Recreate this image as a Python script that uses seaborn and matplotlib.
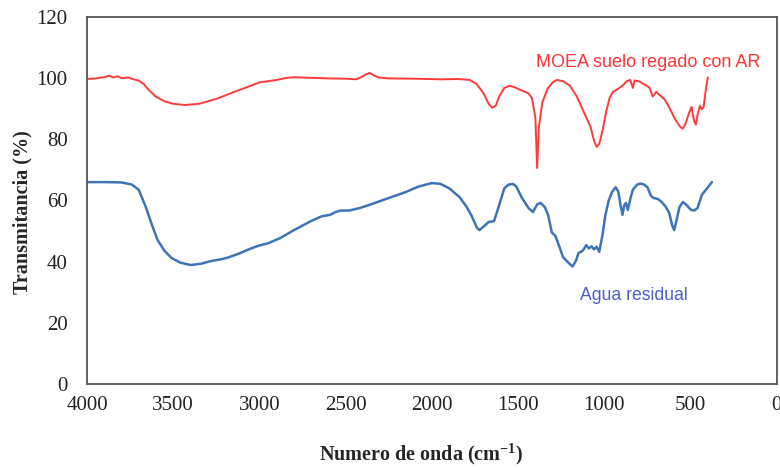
import matplotlib
matplotlib.use("Agg")
import matplotlib.pyplot as plt
import seaborn as sns
import pandas as pd

# MOEA suelo regado con AR (red)
wn_moea = [4000, 3950, 3900, 3870, 3850, 3820, 3800, 3760, 3730, 3700, 3670, 3640, 3600,
           3550, 3500, 3430, 3350, 3250, 3150, 3050, 3000, 2950, 2900, 2850, 2800, 2700,
           2600, 2500, 2440, 2410, 2380, 2360, 2340, 2310, 2250, 2100, 1950, 1850, 1780,
           1740, 1700, 1670, 1650, 1630, 1610, 1580, 1550, 1520, 1490, 1460, 1440, 1420,
           1400, 1390, 1380, 1360, 1330, 1300, 1275, 1240, 1200, 1160, 1120, 1100, 1080,
           1060, 1045, 1030, 1010, 990, 970, 950, 920, 890, 870, 850, 835, 825, 800, 770,
           740, 720, 700, 680, 650, 620, 590, 560, 545, 530, 510, 495, 480, 470, 460, 446,
           435, 425, 410, 400]
t_moea = [99.7, 99.9, 100.3, 100.8, 100.2, 100.6, 100.0, 100.2, 99.6, 99.2, 98.0, 96.0, 93.9,
          92.4, 91.6, 91.2, 91.6, 93.2, 95.4, 97.5, 98.6, 99.0, 99.4, 100.0, 100.3, 100.1,
          99.9, 99.8, 99.6, 100.3, 101.3, 101.7, 101.0, 100.2, 99.9, 99.8, 99.6, 99.7, 99.4,
          98.0, 95.0, 91.5, 90.3, 91.0, 94.0, 96.8, 97.5, 97.0, 96.2, 95.5, 95.0, 93.5,
          87.0, 70.6, 84.0, 92.0, 96.5, 98.6, 99.4, 99.0, 97.5, 94.0, 89.0, 86.5, 84.0,
          79.5, 77.5, 78.5, 83.0, 89.0, 93.5, 95.5, 96.5, 97.8, 99.0, 99.4, 96.8, 99.2, 99.0, 98.0,
          97.0, 94.0, 95.5, 94.5, 93.0, 90.0, 86.5, 84.0, 83.5, 85.0, 88.5, 90.6, 86.0, 84.8, 88.0, 90.9,
          89.8, 90.5, 97.0, 100.2]

# Agua residual (blue)
wn_agua = [4000, 3900, 3800, 3740, 3700, 3660, 3620, 3590, 3550, 3510, 3460, 3400, 3340, 3280,
           3220, 3190, 3120, 3050, 3000, 2950, 2880, 2800, 2700, 2640, 2590, 2560, 2530, 2480,
           2420, 2360, 2250, 2150, 2080, 2000, 1950, 1900, 1840, 1800, 1770, 1740, 1725, 1700,
           1670, 1640, 1610, 1580, 1555, 1530, 1510, 1480, 1440, 1414, 1390, 1370, 1345, 1325,
           1305, 1285, 1265, 1240, 1215, 1185, 1165, 1150, 1125, 1105, 1090, 1075, 1060, 1045,
           1030, 1010, 995, 975, 955, 935, 920, 905, 895, 885, 875, 864, 850, 835, 810, 790,
           770, 750, 730, 715, 690, 670, 645, 625, 605, 595, 580, 565, 545, 525, 500, 480,
           460, 435, 400, 377]
t_agua = [66.0, 66.0, 65.9, 65.2, 63.5, 58.0, 51.5, 47.0, 43.5, 41.2, 39.7, 38.9, 39.3, 40.2,
          40.8, 41.2, 42.6, 44.3, 45.3, 46.0, 47.7, 50.3, 53.3, 54.8, 55.3, 56.2, 56.7, 56.7,
          57.5, 58.6, 60.8, 62.8, 64.5, 65.7, 65.4, 64.0, 61.1, 58.0, 55.0, 51.2, 50.3, 51.5,
          53.0, 53.2, 58.5, 64.0, 65.2, 65.4, 64.5, 61.0, 57.5, 56.2, 58.7, 59.2, 57.8, 55.0,
          49.5, 48.5, 45.5, 41.5, 40.0, 38.4, 40.3, 42.8, 43.6, 45.4, 44.3, 45.0, 44.0, 44.9,
          43.2, 49.0, 55.0, 60.0, 62.8, 64.3, 63.0, 58.0, 55.3, 58.5, 59.2, 56.9, 60.5, 63.5, 65.2, 65.5,
          65.2, 64.3, 61.5, 60.8, 60.5, 59.6, 58.0, 56.0, 51.5, 50.3, 54.0, 57.8, 59.5, 58.6, 57.0, 56.7,
          57.5, 61.8, 64.3, 66.0]

x_ticks = [4000, 3500, 3000, 2500, 2000, 1500, 1000, 500, 0]
y_ticks = [0, 20, 40, 60, 80, 100, 120]

df_moea = pd.DataFrame({"wn": wn_moea, "T": t_moea})
df_agua = pd.DataFrame({"wn": wn_agua, "T": t_agua})

sns.set_style("white")
plt.rcParams['font.family'] = ['Liberation Serif', 'DejaVu Serif']

fig = plt.figure(figsize=(7.8, 4.7), dpi=100)
ax = fig.add_axes([0.1115, 0.183, 0.8845, 0.781])

sns.lineplot(data=df_moea, x="wn", y="T", sort=False, estimator=None,
             color="#ff3a3a", linewidth=1.4, ax=ax)
sns.lineplot(data=df_agua, x="wn", y="T", sort=False, estimator=None,
             color="#3f74b8", linewidth=1.8, ax=ax)

ax.set_xlim(4000, 0)
ax.set_ylim(0, 120)
ax.set_xticks(x_ticks)
ax.set_yticks(y_ticks)
ax.tick_params(axis="x", direction="out", length=5, width=1, colors="#333333",
               labelsize=15, pad=4, labelcolor="#222222")
ax.tick_params(axis="y", direction="in", length=4, width=1, colors="#333333",
               labelsize=15, pad=14, labelcolor="#222222")
for s in ax.spines.values():
    s.set_color("#555555")
    s.set_linewidth(1.3)

ax.set_xlabel("Numero de onda (cm$^{\\mathregular{-1}}$)", fontsize=14.5, fontweight="bold",
              va="center")
ax.xaxis.set_label_coords(0.484, -0.19)
ax.set_ylabel("Transmitancia (%)", fontsize=14.5, fontweight="bold", va="center")
ax.yaxis.set_label_coords(-0.094, 0.469)

ax.text(1395, 105, "MOEA suelo regado con AR", color="#ff3434", fontsize=13,
        family=["Liberation Sans", "DejaVu Sans"], va="center", ha="left")
ax.text(1140, 29, "Agua residual", color="#4a5fcc", fontsize=12.7,
        family=["Liberation Sans", "DejaVu Sans"], va="center", ha="left")

fig.savefig("out.png", dpi=100)
